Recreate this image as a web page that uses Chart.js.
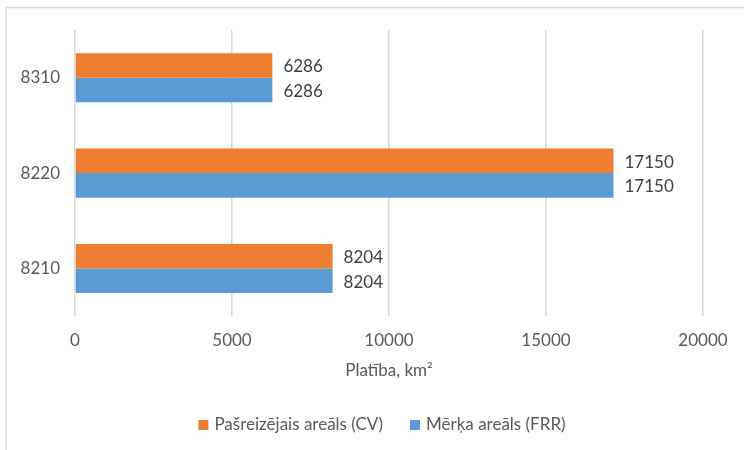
<!DOCTYPE html>
<html><head><meta charset="utf-8">
<script src="https://cdn.jsdelivr.net/npm/chart.js@4/dist/chart.umd.min.js"></script>
<style>html,body{margin:0;padding:0;background:#fff}#w{width:744px;height:450px;position:relative}</style>
</head><body><div id="w"><canvas id="c" width="744" height="450"></canvas></div>
<script>
const categories = ["8310", "8220", "8210"];
const seriesNames = ["Pašreizējais areāls (CV)", "Mērķa areāls (FRR)"];
const cvValues = [6286, 17150, 8204];
const frrValues = [6286, 17150, 8204];
const xTicks = [0, 5000, 10000, 15000, 20000];
const axisTitle = "Platība, km²";
const colors = ["#ED7D31", "#5B9BD5"];
const FONT = "Lato";
const TXT = "#595959";

const framePlugin = {
  id: 'frame',
  beforeDraw(chart) {
    const c = chart.ctx;
    c.save();
    c.fillStyle = '#fff';
    c.fillRect(0, 0, chart.width, chart.height);
    c.strokeStyle = '#d9d9d9';
    c.lineWidth = 1.5;
    c.beginPath();
    c.moveTo(6, 460); c.lineTo(6, 7.5); c.lineTo(760, 7.5);
    c.stroke();
    c.restore();
  }
};
const valuePlugin = {
  id: 'vals',
  afterDatasetsDraw(chart) {
    const c = chart.ctx;
    c.save();
    c.font = "17px " + FONT;
    c.fillStyle = "#404040";
    c.textAlign = 'left';
    c.textBaseline = 'middle';
    chart.data.datasets.forEach((ds, i) => {
      chart.getDatasetMeta(i).data.forEach((bar, j) => {
        c.fillText(String(ds.data[j]), bar.x + 11, bar.y + 1.5);
      });
    });
    c.restore();
  }
};
const legendPlugin = {
  id: 'mylegend',
  afterDraw(chart) {
    const c = chart.ctx;
    c.save();
    c.font = "17px " + FONT;
    c.textBaseline = 'middle';
    c.textAlign = 'left';
    const box = 10, gapBox = 6, gapItem = 27, y = 425;
    let total = 0;
    seriesNames.forEach((n, i) => { total += box + gapBox + c.measureText(n).width + (i ? gapItem : 0); });
    let x = 382 - total / 2;
    seriesNames.forEach((n, i) => {
      if (i) x += gapItem;
      c.fillStyle = colors[i];
      c.fillRect(x, y - box / 2, box, box);
      x += box + gapBox;
      c.fillStyle = TXT;
      c.fillText(n, x, y);
      x += c.measureText(n).width;
    });
    c.restore();
  }
};

new Chart(document.getElementById('c'), {
  type: 'bar',
  data: {
    labels: categories,
    datasets: [
      { label: seriesNames[0], data: cvValues, backgroundColor: colors[0] },
      { label: seriesNames[1], data: frrValues, backgroundColor: colors[1] }
    ]
  },
  options: {
    indexAxis: 'y',
    responsive: false,
    animation: false,
    devicePixelRatio: 1,
    layout: { padding: { left: 0, right: 41, top: 30, bottom: 69 } },
    categoryPercentage: 0.515,
    barPercentage: 1.0,
    plugins: { legend: { display: false }, tooltip: { enabled: false } },
    scales: {
      x: {
        min: 0, max: 20000,
        afterBuildTicks(s) { s.ticks = xTicks.map(v => ({ value: v })); },
        grid: { color: '#d9d9d9', lineWidth: 1.5, drawTicks: false },
        border: { display: false },
        ticks: { color: TXT, font: { family: FONT, size: 17 }, padding: 14, maxRotation: 0, callback: v => String(v) },
        title: { display: true, text: axisTitle, color: TXT, font: { family: FONT, size: 17 }, padding: { top: -4, bottom: 0 } }
      },
      y: {
        grid: { display: false, drawTicks: false },
        border: { display: false },
        ticks: { color: TXT, font: { family: FONT, size: 17 }, padding: 15 },
        afterFit(s) { s.width = 75; }
      }
    }
  },
  plugins: [framePlugin, valuePlugin, legendPlugin]
});
</script></body></html>
